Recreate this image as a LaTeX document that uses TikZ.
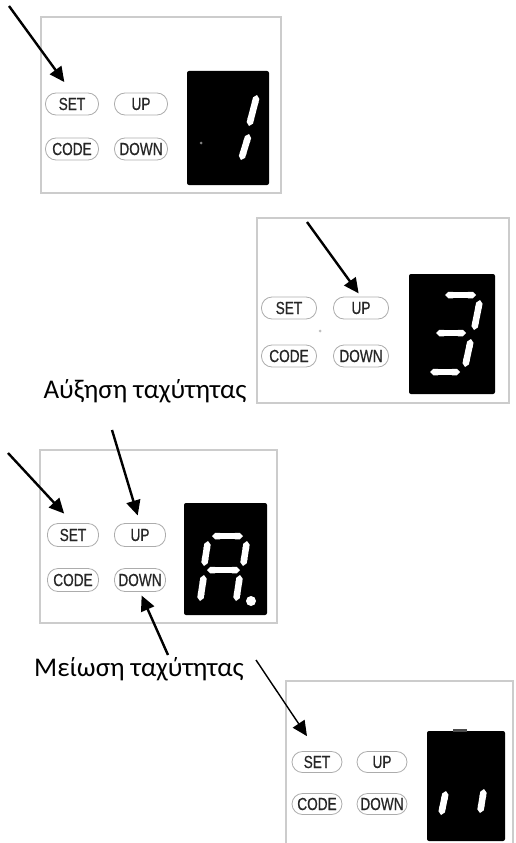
\documentclass[tikz,border=0pt]{standalone}
\usepackage{fontspec}
\setmainfont{Carlito}
\newfontfamily\btnfont[FakeStretch=0.78, FakeBold=0.6]{Liberation Sans}
\usepackage{tikz}
\usetikzlibrary{arrows.meta, calc}
\tikzstyle{panel} = [rectangle, draw=gray!40, line width=1.2pt, inner sep=0pt]
\tikzstyle{btn} = [rectangle, rounded corners=10.5pt, draw=gray!65, line width=0.8pt, minimum width=53pt, minimum height=22pt, inner sep=0pt, text=black!85, font=\btnfont\fontsize{17.5}{17.5}\selectfont]
\tikzstyle{display} = [rectangle, rounded corners=2pt, fill=black, inner sep=0pt]
\tikzstyle{seg} = [white, line width=6.5pt, {Triangle Cap[]}-{Triangle Cap[]}]
\tikzstyle{pointer} = [line width=2.4pt, -{Triangle[length=15pt,width=14pt]}]
\tikzstyle{caption} = [font=\fontsize{27}{27}\selectfont, inner sep=0pt]

\begin{document}
\begin{tikzpicture}[x=1pt, y=-1pt]
\useasboundingbox (0,0) rectangle (515,843);
\clip (0,0) rectangle (515,843);

% first panel: SET pressed, shows 1
\node [panel, minimum width=240pt, minimum height=176pt] (p1) at (161,105) {};
\node [display, minimum width=82pt, minimum height=114pt] (d1) at (228,128) {};
\node [btn] (set1) at (72,104) {SET};
\node [btn] (up1) at (141,104) {UP};
\node [btn] (code1) at (72,149) {CODE};
\node [btn] (down1) at (141,149) {DOWN};
\draw [seg] (257,95) -- (249,126);
\draw [seg] (249,134) -- (241,160);
\fill [gray] (201,143) circle (1.5);
\coordinate (t1) at (9,6);
\draw [pointer, shorten >=13pt] (t1) -- (set1.north);

% second panel: UP pressed, shows 3
\node [panel, minimum width=252pt, minimum height=185pt] (p2) at (383,310.5) {};
\node [display, minimum width=86pt, minimum height=120pt] (d2) at (452,334) {};
\node [btn, minimum width=55pt] (set2) at (289,308) {SET};
\node [btn, minimum width=55pt] (up2) at (361,308) {UP};
\node [btn, minimum width=55pt] (code2) at (289,356) {CODE};
\node [btn, minimum width=55pt] (down2) at (361,356) {DOWN};
\draw [seg] (445,295) -- (476,295);
\draw [seg] (480,300) -- (474,330);
\draw [seg] (436,333) -- (466,333);
\draw [seg] (471,339) -- (465,367);
\draw [seg] (430,372) -- (460,372);
\fill [gray!50] (320,331) circle (1.5);
\coordinate (t2) at (307,222);
\draw [pointer, shorten >=4pt] (t2) -- (up2.north);

\node [caption] (incr) at (145,391) {Αύξηση ταχύτητας};

% third panel: speed up / down, shows A.
\node [panel, minimum width=237pt, minimum height=173pt] (p3) at (158.5,536.5) {};
\node [display, minimum width=83pt, minimum height=112pt] (d3) at (225.5,559) {};
\node [btn, minimum width=51pt, minimum height=23pt] (set3) at (73,535) {SET};
\node [btn, minimum width=51pt, minimum height=23pt] (up3) at (140,535) {UP};
\node [btn, minimum width=51pt, minimum height=23pt] (code3) at (73,580) {CODE};
\node [btn, minimum width=51pt, minimum height=23pt] (down3) at (140,580) {DOWN};
\draw [seg] (212,536) -- (243,536);
\draw [seg] (208,541) -- (204,566);
\draw [seg] (247,541) -- (243,566);
\draw [seg] (207,570) -- (240,570);
\draw [seg] (204,575) -- (200,601);
\draw [seg] (240,575) -- (236,601);
\fill [white] (251,601) circle (5);
\coordinate (t3) at (8,453);
\coordinate (t4) at (112,430);
\coordinate (t5) at (168,655);
\draw [pointer, shorten >=13pt] (t3) -- (set3.north);
\draw [pointer, shorten >=8pt] (t4) -- (up3.north);
\draw [pointer, shorten >=4pt] (t5) -- (down3.south);

\node [caption] (decr) at (139,669) {Μείωση ταχύτητας};

% fourth panel: SET pressed, shows 11
\node [panel, minimum width=227pt, minimum height=219pt] (p4) at (399.5,790.5) {};
\node [display, minimum width=78pt, minimum height=110pt] (d4) at (466,786) {};
\fill [gray!60!black] (453,729) rectangle (467,732);
\node [btn, minimum width=50pt, minimum height=21pt] (set4) at (317,762) {SET};
\node [btn, minimum width=50pt, minimum height=21pt] (up4) at (382,762) {UP};
\node [btn, minimum width=50pt, minimum height=21pt] (code4) at (317,804) {CODE};
\node [btn, minimum width=50pt, minimum height=21pt] (down4) at (382,804) {DOWN};
\draw [seg] (446,791) -- (441,815);
\draw [seg] (484,789) -- (480,813);
\coordinate (t6) at (256,660);
\draw [pointer, line width=1.4pt, shorten >=18pt] (t6) -- (set4.north);
\end{tikzpicture}
\end{document}
